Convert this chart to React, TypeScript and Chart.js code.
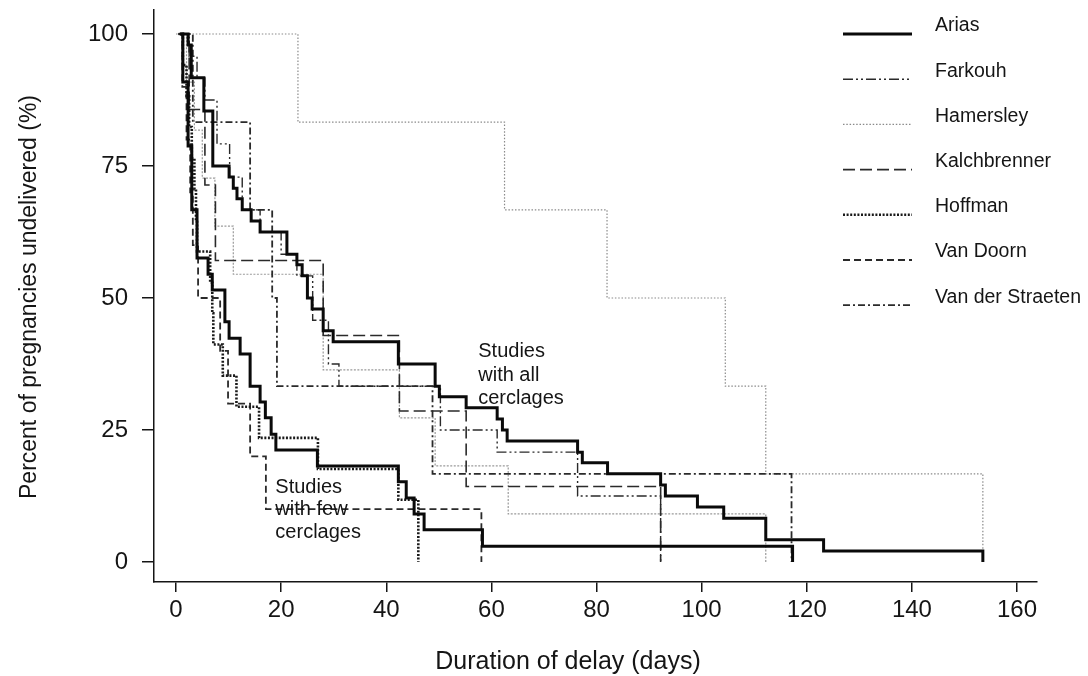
import React, { useEffect, useRef } from 'react';
import { Chart, registerables } from 'chart.js';

Chart.register(...registerables);

// ---------- axis ticks ----------
const X_TICKS = [0, 20, 40, 60, 80, 100, 120, 140, 160];
const Y_TICKS = [0, 25, 50, 75, 100];
const X_TITLE = 'Duration of delay (days)';
const Y_TITLE = 'Percent of pregnancies undelivered (%)';

// ---------- step curves: day of each step, percent undelivered after it ----------
const ariasDays = [0.8, 2.3, 2.9, 5.3, 7.0, 10.1, 10.9, 11.6, 12.6, 14.3, 16.0, 21.1, 23.0, 24.0, 25.0, 25.9, 28.0, 29.9, 42.3, 49.3, 50.1, 55.2, 61.1, 62.1, 63.0, 76.4, 77.3, 82.1, 92.2, 93.1, 99.2, 104.2, 112.2, 123.2, 153.5];
const ariasPct = [100, 97.9, 91.7, 85.4, 75, 72.9, 70.8, 68.8, 66.7, 64.6, 62.5, 58.3, 56.3, 54.2, 50, 47.9, 43.8, 41.7, 37.5, 33.3, 31.3, 29.2, 27.1, 25, 22.9, 20.8, 18.8, 16.7, 14.6, 12.5, 10.4, 8.3, 4.2, 2.1, 0];

const fewDays = [0.8, 1.3, 2.3, 3.0, 4.0, 6.1, 6.9, 9.3, 10.1, 12.2, 14.1, 16.0, 17.0, 18.1, 19.0, 26.9, 42.3, 43.8, 45.3, 47.2, 58.3, 117.3];
const fewPct = [100, 90.9, 78.8, 66.7, 57.6, 54.5, 51.5, 45.5, 42.4, 39.4, 33.3, 30.3, 27.3, 24.2, 21.2, 18.2, 15.2, 12.1, 9.1, 6.1, 3.0, 0];

const hamersleyDays = [0, 23.2, 62.5, 82.0, 104.5, 112.2, 153.5];
const hamersleyPct = [100, 83.3, 66.7, 50, 33.3, 16.7, 0];

const straetenDays = [0.5, 3.2, 14.1, 18.3, 19.2, 48.8, 117.1];
const straetenPct = [100, 83.3, 66.7, 50, 33.3, 16.7, 0];

const kalchDays = [0.5, 2.5, 5.5, 7.5, 28.0, 42.5, 55.2, 92.2];
const kalchPct = [100, 85.7, 71.4, 57.1, 42.9, 28.6, 14.3, 0];

const farkouhDays = [0.5, 2.5, 4.0, 5.5, 7.8, 10.2, 12.6, 16.0, 20.0, 23.0, 26.0, 29.0, 31.0, 50.3, 61.1, 76.4, 92.2];
const farkouhPct = [100, 95.8, 91.7, 87.5, 79.2, 72.9, 66.7, 62.5, 58.3, 54.2, 45.8, 37.5, 33.3, 25, 20.8, 12.5, 0];

const grayDays = [0.5, 2.0, 3.5, 5.0, 7.4, 10.9, 28.0, 42.5, 49.3, 63.2, 112.2];
const grayPct = [100, 90.9, 81.8, 72.7, 63.6, 54.5, 36.4, 27.3, 18.2, 9.1, 0];

const hoffmanDays = [0.5, 1.3, 2.0, 2.5, 3.0, 3.5, 3.8, 4.0, 6.5, 6.9, 7.1, 8.9, 11.5, 15.8, 27.0, 42.3, 46.1];
const hoffmanPct = [100, 94.1, 88.2, 82.4, 76.5, 70.6, 64.7, 58.8, 52.9, 47.1, 41.2, 35.3, 29.4, 23.5, 17.6, 11.8, 0];

const doornDays = [0.5, 1.2, 2.0, 2.7, 3.2, 4.2, 8.4, 9.9, 14.1, 17.1, 58.1];
const doornPct = [100, 90, 80, 70, 60, 50, 40, 30, 20, 10, 0];

const LEGEND_LABELS = ['Arias', 'Farkouh', 'Hamersley', 'Kalchbrenner', 'Hoffman', 'Van Doorn', 'Van der Straeten'];
const NOTE_ALL = ['Studies', 'with all', 'cerclages'];
const NOTE_FEW = ['Studies', 'with few', 'cerclages'];

const FONT = '"Liberation Sans", Arial, Helvetica, sans-serif';
const INK = '#151515';

const pts = (days: number[], pct: number[]) => days.map((d, i) => ({ x: d, y: pct[i] }));

const makeSet = (label: string, days: number[], pct: number[], color: string, width: number, dash: number[], inLegend = true) => ({
  label,
  data: pts(days, pct),
  borderColor: color,
  borderWidth: width,
  borderDash: dash,
  stepped: 'before' as const,
  pointRadius: 0,
  fill: false,
  inLegend,
});

const decorPlugin = {
  id: 'kmDecor',
  afterDraw(chart: any) {
    const ctx = chart.ctx as CanvasRenderingContext2D;
    const xs = chart.scales.x;
    const ys = chart.scales.y;
    ctx.save();
    // legend
    LEGEND_LABELS.forEach((label, i) => {
      const ds = chart.data.datasets.find((d: any) => d.label === label && d.inLegend);
      const y = 34 + i * 45.2;
      ctx.beginPath();
      ctx.setLineDash(ds.borderDash || []);
      ctx.lineWidth = ds.borderWidth;
      ctx.strokeStyle = ds.borderColor;
      ctx.moveTo(843, y);
      ctx.lineTo(912, y);
      ctx.stroke();
      ctx.setLineDash([]);
      ctx.fillStyle = INK;
      ctx.font = `19.5px ${FONT}`;
      ctx.textAlign = 'left';
      ctx.textBaseline = 'middle';
      ctx.fillText(label, 935, y - 8);
    });
    // notes
    ctx.font = `20px ${FONT}`;
    ctx.fillStyle = INK;
    ctx.textAlign = 'left';
    ctx.textBaseline = 'middle';
    NOTE_ALL.forEach((t, i) => ctx.fillText(t, xs.getPixelForValue(57.5), ys.getPixelForValue(39.8) + i * 23.5));
    NOTE_FEW.forEach((t, i) => ctx.fillText(t, xs.getPixelForValue(18.9), ys.getPixelForValue(14.2) + i * 22.5));
    // axis titles
    ctx.font = `25px ${FONT}`;
    ctx.textAlign = 'center';
    ctx.fillText(X_TITLE, 568, 662);
    ctx.translate(30, 297);
    ctx.rotate(-Math.PI / 2);
    ctx.font = `23px ${FONT}`;
    ctx.fillText(Y_TITLE, 0, 0);
    ctx.restore();
  },
};

export default function App() {
  const ref = useRef<HTMLCanvasElement>(null);

  useEffect(() => {
    if (!ref.current) return;
    const datasets = [
      makeSet('Arias', ariasDays, ariasPct, '#0a0a0a', 3, []),
      makeSet('Arias', fewDays, fewPct, '#0a0a0a', 3, [], false),
      makeSet('Hoffman', hoffmanDays, hoffmanPct, '#1a1a1a', 2.6, [2, 1.6]),
      makeSet('Van Doorn', doornDays, doornPct, '#2a2a2a', 1.8, [7, 4]),
      makeSet('Kalchbrenner', kalchDays, kalchPct, '#2a2a2a', 1.6, [12, 5]),
      makeSet('Farkouh', farkouhDays, farkouhPct, '#2a2a2a', 1.4, [10, 3, 2, 3, 2, 3]),
      makeSet('Van der Straeten', straetenDays, straetenPct, '#2a2a2a', 1.8, [7, 3, 2, 3]),
      makeSet('Hamersley', hamersleyDays, hamersleyPct, '#8a8a8a', 1.2, [1.5, 1.8]),
      makeSet('Hamersley', grayDays, grayPct, '#9a9a9a', 1.2, [2, 1.5], false),
    ];

    const chart = new Chart(ref.current, {
      type: 'line',
      data: { datasets: datasets as any },
      plugins: [decorPlugin],
      options: {
        animation: false,
        responsive: false,
        devicePixelRatio: 1,
        layout: { padding: { top: 10, right: 51, bottom: 0, left: 0 } },
        plugins: { legend: { display: false }, tooltip: { enabled: false } },
        scales: {
          x: {
            type: 'linear',
            min: -4.186,
            max: 163.8,
            afterFit: (s: any) => { s.height = 94; s.paddingLeft = 0; s.paddingRight = 0; },
            afterBuildTicks: (s: any) => { s.ticks = X_TICKS.map((v) => ({ value: v })); },
            grid: { drawOnChartArea: false, drawTicks: true, tickLength: 10, color: INK, lineWidth: 1.5 },
            border: { display: true, color: INK, width: 1.5 },
            ticks: { color: INK, font: { family: FONT, size: 24 }, padding: 4, maxRotation: 0, autoSkip: false },
          },
          y: {
            type: 'linear',
            min: -3.79,
            max: 104.55,
            afterFit: (s: any) => { s.width = 154; s.paddingTop = 0; s.paddingBottom = 0; },
            afterBuildTicks: (s: any) => { s.ticks = Y_TICKS.map((v) => ({ value: v })); },
            grid: { drawOnChartArea: false, drawTicks: true, tickLength: 12, color: INK, lineWidth: 1.5 },
            border: { display: true, color: INK, width: 1.5 },
            ticks: { color: INK, font: { family: FONT, size: 24 }, padding: 14, autoSkip: false },
          },
        },
      },
    });
    return () => chart.destroy();
  }, []);

  return (
    <div style={{ position: 'fixed', left: 0, top: 0, width: 1088, height: 676, background: '#fff' }}>
      <canvas ref={ref} width={1088} height={676} style={{ width: 1088, height: 676, display: 'block' }} />
    </div>
  );
}
